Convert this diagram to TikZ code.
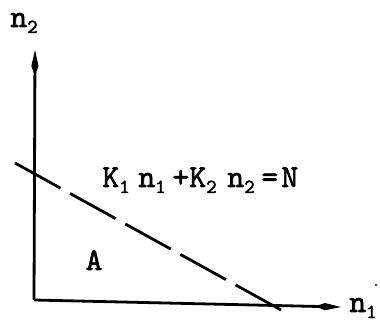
\documentclass[tikz,border=0pt]{standalone}
\usepackage{fontspec}
\usetikzlibrary{arrows.meta}
\newfontfamily\tw{lmmono10-regular.otf}[FakeBold=2]
\newcommand\sbs[1]{\raisebox{-3pt}{\fontsize{10}{10}\selectfont #1}}
\newcommand\pr[2]{\makebox[#1][l]{#2}}
\begin{document}
\begin{tikzpicture}[x=0.5pt,y=-0.5pt,
  axis/.style={line width=1.4pt,-{Kite[length=13pt,width=3.6pt,inset=5pt]}},
  lbl/.style={inner sep=0pt,font=\tw\fontsize{16}{16}\selectfont},
  dashln/.style={line width=1.4pt,dash pattern=on 26pt off 5.5pt}]
\useasboundingbox (0,0) rectangle (380,331);
\coordinate (O) at (34,300);
\coordinate (ytop) at (35,50);
\coordinate (xend) at (341,307);
\coordinate (d1) at (15,163);
\coordinate (d2) at (281,310);
\draw[axis] (O) -- (ytop);
\draw[axis] (O) -- (xend);
\draw[dashln] (d1) -- (d2);
\node[lbl,anchor=base west] (n2) at (10,27) {n\sbs{2}};
\node[lbl,anchor=base west] (n1) at (349,312) {n\sbs{1}};
\node[lbl,anchor=base] (A) at (94,270) {A};
\node[lbl,anchor=base west] (eq) at (102,187)
  {\pr{18pt}{K\sbs{1}}\pr{17pt}{n\sbs{1}}\pr{8.5pt}{+}\pr{19pt}{K\sbs{2}}\pr{17pt}{n\sbs{2}}\pr{10pt}{=}N};
\fill (376,285) circle (1.2);
\end{tikzpicture}
\end{document}
